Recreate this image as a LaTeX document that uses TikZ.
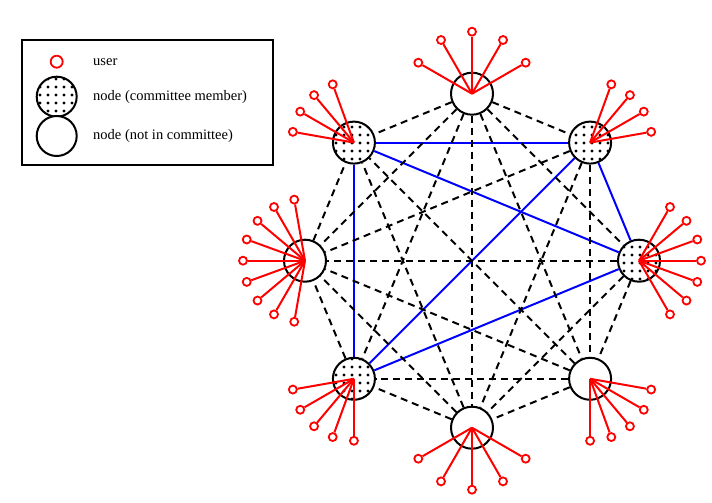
\documentclass[tikz,border=0pt]{standalone}
\usepackage{fontspec}
\setmainfont{Liberation Serif}
\usetikzlibrary{patterns.meta}

\tikzset{
  peer/.style={circle, draw, line width=2pt, minimum size=42pt, inner sep=0pt, fill=white},
  member/.style={peer, pattern={Dots[distance=8pt,radius=1.6pt]}},
  user/.style={circle, draw=red, line width=1.8pt, minimum size=8pt, inner sep=0pt, fill=white},
  link/.style={line width=2pt, dash pattern=on 7pt off 5pt},
  quorum/.style={blue, line width=2pt},
  tie/.style={red, line width=2pt},
  lbl/.style={anchor=west, inner sep=0pt, font=\fontsize{14.5}{17}\selectfont}
}

\begin{document}
\begin{tikzpicture}[x=1pt,y=1pt]
    \useasboundingbox (0,0) rectangle (712,503);

    % legend
    \draw[line width=2pt] (22,463) rectangle (273,338);
    \node[user, minimum size=12pt] (kuser) at (56.7,441.3) {};
    \node[member, minimum size=40pt] (kmember) at (56.7,406.3) {};
    \node[peer, minimum size=40pt] (kpeer) at (56.7,367) {};
    \node[lbl] (tuser) at (93,441.3) {user};
    \node[lbl] (tmember) at (93,406.3) {node (committee member)};
    \node[lbl] (tpeer) at (93,367) {node (not in committee)};

    \begin{scope}[shift={(472,242.3)}]
    \node[peer] (a) at (90:167) {};
    \node[member] (b) at (45:167) {};
    \node[member] (c) at (0:167) {};
    \node[peer] (d) at (-45:167) {};
    \node[peer] (e) at (-90:167) {};
    \node[member] (f) at (-135:167) {};
    \node[peer] (g) at (180:167) {};
    \node[member] (h) at (135:167) {};
    \end{scope}

    % committee links
    \draw[quorum] (h) -- (b);
    \draw[quorum] (h) -- (c);
    \draw[quorum] (h) -- (f);
    \draw[quorum] (b) -- (c);
    \draw[quorum] (b) -- (f);
    \draw[quorum] (c) -- (f);

    % other links
    \draw[link] (a) -- (b);
    \draw[link] (a) -- (c);
    \draw[link] (a) -- (d);
    \draw[link] (a) -- (e);
    \draw[link] (a) -- (f);
    \draw[link] (a) -- (g);
    \draw[link] (a) -- (h);
    \draw[link] (b) -- (d);
    \draw[link] (b) -- (e);
    \draw[link] (b) -- (g);
    \draw[link] (c) -- (d);
    \draw[link] (c) -- (e);
    \draw[link] (c) -- (g);
    \draw[link] (d) -- (e);
    \draw[link] (d) -- (f);
    \draw[link] (d) -- (g);
    \draw[link] (d) -- (h);
    \draw[link] (e) -- (f);
    \draw[link] (e) -- (g);
    \draw[link] (e) -- (h);
    \draw[link] (f) -- (g);
    \draw[link] (g) -- (h);

    % users
    \foreach \n/\angs in {a/{30,60,90,120,150}, b/{10,30,50,70},
        c/{-60,-40,-20,0,20,40,60}, d/{-10,-30,-50,-70,-90},
        e/{210,240,270,300,330}, f/{190,210,230,250,270},
        g/{100,120,140,160,180,200,220,240,260}, h/{110,130,150,170}}
      \foreach \t in \angs {
        \node[user] (\n-u\t) at ([shift={(\t:62)}]\n.center) {};
        \draw[tie] (\n.center) -- (\n-u\t);
      }
\end{tikzpicture}
\end{document}
